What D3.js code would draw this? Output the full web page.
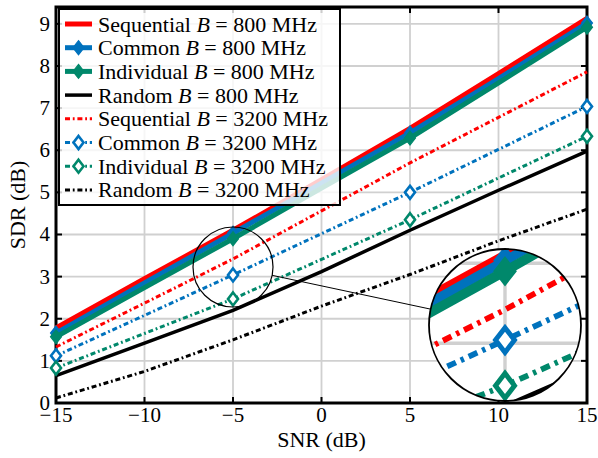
<!DOCTYPE html>
<html>
<head>
<meta charset="utf-8">
<script src="https://cdn.jsdelivr.net/npm/d3@7"></script>
<style>
  html, body { margin: 0; padding: 0; background: #fff; }
  text { font-family: "Liberation Serif", "Times New Roman", serif; }
</style>
</head>
<body>
<svg id="chart" width="598" height="458"></svg>
<script>
// values
const snr = [-15, -10, -5, 0, 5, 10, 15];
const seq800  = [1.78, 2.95, 4.10, 5.30, 6.52, 7.82, 9.13];
const com800  = [1.66, 2.85, 4.03, 5.22, 6.41, 7.70, 9.02];
const ind800  = [1.57, 2.74, 3.90, 5.10, 6.29, 7.60, 8.92];
const rnd800  = [0.65, 1.42, 2.20, 3.12, 4.10, 5.05, 5.98];
const seq3200 = [1.33, 2.37, 3.42, 4.56, 5.70, 6.78, 7.86];
const com3200 = [1.12, 2.08, 3.04, 4.02, 5.00, 6.02, 7.04];
const ind3200 = [0.83, 1.65, 2.47, 3.41, 4.35, 5.34, 6.33];
const rnd3200 = [0.12, 0.75, 1.50, 2.30, 3.05, 3.85, 4.60];

const xTicks = [-15, -10, -5, 0, 5, 10, 15];
const yTicks = [0, 1, 2, 3, 4, 5, 6, 7, 8, 9];

const names = ['Sequential', 'Common', 'Individual', 'Random',
               'Sequential', 'Common', 'Individual', 'Random'];
const bands = ['800', '800', '800', '800', '3200', '3200', '3200', '3200'];

const red = '#ff0000', blue = '#0072bd', green = '#00886b', black = '#000';
const dashDot = '5,2.8,1.8,2.8';

let series = [
    {y: seq800,  color: red,   width: 5,   dash: null,    marker: null},
    {y: com800,  color: blue,  width: 5,   dash: null,    marker: 'filled'},
    {y: ind800,  color: green, width: 5,   dash: null,    marker: 'filled'},
    {y: rnd800,  color: black, width: 3.5, dash: null,    marker: null},
    {y: seq3200, color: red,   width: 3,   dash: dashDot, marker: null},
    {y: com3200, color: blue,  width: 3,   dash: dashDot, marker: 'open'},
    {y: ind3200, color: green, width: 3,   dash: dashDot, marker: 'open'},
    {y: rnd3200, color: black, width: 3,   dash: dashDot, marker: null},
];

const W = 598, H = 458;
const margin = {left: 56, right: 11, top: 7, bottom: 55};

const svg = d3.select('#chart');

const x = d3.scaleLinear().domain([-15, 15]).range([margin.left, W - margin.right]);
const y = d3.scaleLinear().domain([0, 9.4]).range([H - margin.bottom, margin.top]);

const diamond = (w, h) => `M0,${-h}L${w},0L0,${h}L${-w},0Z`;

let drawGrid = g => {
    g.append('g').selectAll('line').data(xTicks).enter().append('line')
        .attr('x1', d => x(d)).attr('x2', d => x(d))
        .attr('y1', y(0)).attr('y2', y(9.4))
        .attr('stroke', '#d0d0d0').attr('stroke-width', 1.8);
    g.append('g').selectAll('line').data(yTicks).enter().append('line')
        .attr('x1', x(-15)).attr('x2', x(15))
        .attr('y1', d => y(d)).attr('y2', d => y(d))
        .attr('stroke', '#d0d0d0').attr('stroke-width', 1.8);
}

let drawMarker = (sel, s) => sel
    .attr('d', s.marker === 'filled' ? diamond(5.5, 7) : diamond(5, 6.5))
    .attr('fill', s.marker === 'filled' ? s.color : '#fff')
    .attr('stroke', s.color)
    .attr('stroke-width', s.marker === 'filled' ? 1.2 : 2.6);

let drawSeries = g => {
    let line = d3.line().x((d, i) => x(snr[i])).y(d => y(d));
    series.forEach(s => {
        let sg = g.append('g');
        sg.append('path')
            .attr('d', line(s.y))
            .attr('fill', 'none')
            .attr('stroke', s.color)
            .attr('stroke-width', s.width)
            .attr('stroke-dasharray', s.dash);
        if (s.marker) {
            sg.selectAll('path.mk')
                .data(s.y.map((d, i) => [snr[i], d]).filter((d, i) => i % 2 === 0))
                .enter()
                .append('path')
                    .attr('class', 'mk')
                    .attr('transform', d => `translate(${x(d[0])},${y(d[1])})`)
                    .call(drawMarker, s);
        }
    });
}

// grid
svg.append('g').call(drawGrid);

// axes frame, inward ticks on all sides
const frame = svg.append('g');
const tickLen = 6;
frame.selectAll('line.xt').data(xTicks).enter().append('line')
    .attr('x1', d => x(d)).attr('x2', d => x(d))
    .attr('y1', y(0)).attr('y2', y(0) - tickLen)
    .attr('stroke', black).attr('stroke-width', 2);
frame.selectAll('line.xt2').data(xTicks).enter().append('line')
    .attr('x1', d => x(d)).attr('x2', d => x(d))
    .attr('y1', y(9.4)).attr('y2', y(9.4) + tickLen)
    .attr('stroke', black).attr('stroke-width', 2);
frame.selectAll('line.yt').data(yTicks).enter().append('line')
    .attr('x1', x(-15)).attr('x2', x(-15) + tickLen)
    .attr('y1', d => y(d)).attr('y2', d => y(d))
    .attr('stroke', black).attr('stroke-width', 2);
frame.selectAll('line.yt2').data(yTicks).enter().append('line')
    .attr('x1', x(15)).attr('x2', x(15) - tickLen)
    .attr('y1', d => y(d)).attr('y2', d => y(d))
    .attr('stroke', black).attr('stroke-width', 2);
frame.append('rect')
    .attr('x', x(-15)).attr('y', y(9.4))
    .attr('width', x(15) - x(-15)).attr('height', y(0) - y(9.4))
    .attr('fill', 'none').attr('stroke', black).attr('stroke-width', 3);

// tick labels
const fmt = d3.format('d');
svg.append('g').selectAll('text').data(xTicks).enter().append('text')
    .attr('x', d => x(d)).attr('y', y(0) + 19)
    .attr('text-anchor', 'middle').attr('font-size', 21)
    .text(d => fmt(d));
svg.append('g').selectAll('text').data(yTicks).enter().append('text')
    .attr('x', x(-15) - 6).attr('y', d => y(d) + 7)
    .attr('text-anchor', 'end').attr('font-size', 21)
    .text(d => fmt(d));

// axis titles
svg.append('text')
    .attr('x', (x(-15) + x(15)) / 2).attr('y', 447)
    .attr('text-anchor', 'middle').attr('font-size', 22)
    .text('SNR (dB)');
svg.append('text')
    .attr('transform', `translate(25,${(y(0) + y(9.4)) / 2}) rotate(-90)`)
    .attr('text-anchor', 'middle').attr('font-size', 22)
    .text('SDR (dB)');

// data
svg.append('g').call(drawSeries);

// legend
const legend = svg.append('g');
legend.append('rect')
    .attr('x', 59).attr('y', 9).attr('width', 281).attr('height', 196)
    .attr('fill', '#fff').attr('fill-opacity', 0.8)
    .attr('stroke', black).attr('stroke-width', 2);
series.forEach((s, i) => {
    let cy = 24 + i * 23.7;
    let row = legend.append('g');
    row.append('line')
        .attr('x1', 65).attr('x2', 92).attr('y1', cy).attr('y2', cy)
        .attr('stroke', s.color).attr('stroke-width', s.width)
        .attr('stroke-dasharray', s.dash);
    if (s.marker) {
        row.append('path')
            .attr('transform', `translate(78.5,${cy})`)
            .call(drawMarker, s);
    }
    let t = row.append('text').attr('x', 98).attr('y', cy + 7.5).attr('font-size', 22);
    t.append('tspan').text(names[i] + ' ');
    t.append('tspan').attr('font-style', 'italic').text('B');
    t.append('tspan').text(` = ${bands[i]} MHz`);
});

// magnifier
const small = {cx: x(-5), cy: 267, r: 40};
const big = {cx: 505, cy: 325, r: 76};
const k = big.r / small.r;

let ang = Math.atan2(big.cy - small.cy, big.cx - small.cx);
svg.append('line')
    .attr('x1', small.cx + small.r * Math.cos(ang)).attr('y1', small.cy + small.r * Math.sin(ang))
    .attr('x2', big.cx - big.r * Math.cos(ang)).attr('y2', big.cy - big.r * Math.sin(ang))
    .attr('stroke', black).attr('stroke-width', 1);
svg.append('circle')
    .attr('cx', small.cx).attr('cy', small.cy).attr('r', small.r)
    .attr('fill', 'none').attr('stroke', black).attr('stroke-width', 1.2);

svg.append('clipPath').attr('id', 'lens')
    .append('circle').attr('cx', big.cx).attr('cy', big.cy).attr('r', big.r);
const lens = svg.append('g').attr('clip-path', 'url(#lens)');
lens.append('circle')
    .attr('cx', big.cx).attr('cy', big.cy).attr('r', big.r).attr('fill', '#fff');
const zoomed = lens.append('g')
    .attr('transform', `translate(${big.cx},${big.cy}) scale(${k}) translate(${-small.cx},${-small.cy})`);
zoomed.call(drawGrid);
zoomed.call(drawSeries);
svg.append('circle')
    .attr('cx', big.cx).attr('cy', big.cy).attr('r', big.r)
    .attr('fill', 'none').attr('stroke', black).attr('stroke-width', 1.8);
</script>
</body>
</html>
